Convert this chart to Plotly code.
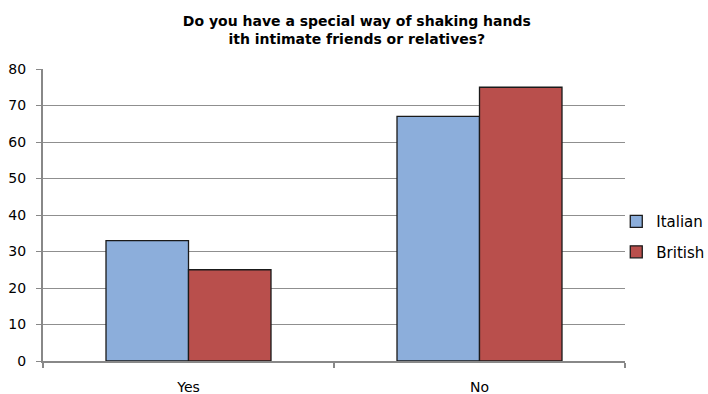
import plotly.graph_objects as go

# Survey answers (percent of respondents)
categories = ["Yes", "No"]
italian = [33, 67]
british = [25, 75]
y_ticks = [0, 10, 20, 30, 40, 50, 60, 70, 80]

FONT = "DejaVu Sans, Verdana, sans-serif"

fig = go.Figure()
fig.add_trace(go.Bar(
    name="Italian", x=categories, y=italian, legendgroup="it",
    marker=dict(color="#8CAEDB", line=dict(color="#1a1a1a", width=1.3)),
))
fig.add_trace(go.Bar(
    name="British", x=categories, y=british, legendgroup="br",
    marker=dict(color="#B94F4C", line=dict(color="#1a1a1a", width=1.3)),
))

fig.update_layout(
    width=708, height=394,
    margin=dict(l=43, r=83, t=69, b=33, autoexpand=False),
    paper_bgcolor="white", plot_bgcolor="white",
    barmode="group", bargap=0.433, bargroupgap=0,
    font=dict(family=FONT, size=13, color="#000"),
    title=dict(
        text="<b>Do you have a special way of shaking hands<br>ith intimate friends or relatives?</b>",
        x=0.504, xanchor="center", y=0.935, yanchor="top",
        font=dict(family=FONT, size=14, color="#000"),
    ),
    legend=dict(
        x=0.985, xanchor="left", y=0.426, yanchor="middle",
        font=dict(family=FONT, size=15, color="#000"),
        itemwidth=30, traceorder="grouped", tracegroupgap=8,
        bgcolor="rgba(0,0,0,0)",
    ),
    showlegend=True,
)

fig.update_xaxes(
    type="category",
    showline=True, linecolor="#888", linewidth=2,
    ticks="outside", tickson="boundaries", ticklen=5, tickcolor="#888", tickwidth=2,
    tickfont=dict(family=FONT, size=14, color="#000"),
    ticklabelstandoff=12,
    showgrid=False, zeroline=False,
)
fig.update_yaxes(
    range=[0, 80], tickvals=y_ticks, ticktext=[str(v) for v in y_ticks],
    showline=True, linecolor="#888", linewidth=2,
    ticks="outside", ticklen=5, tickcolor="#888", tickwidth=1,
    showgrid=True, gridcolor="#8f8f8f", gridwidth=1,
    zeroline=False,
    tickfont=dict(family=FONT, size=14, color="#000"),
    ticklabelstandoff=7,
)

fig.write_html("out.html")
